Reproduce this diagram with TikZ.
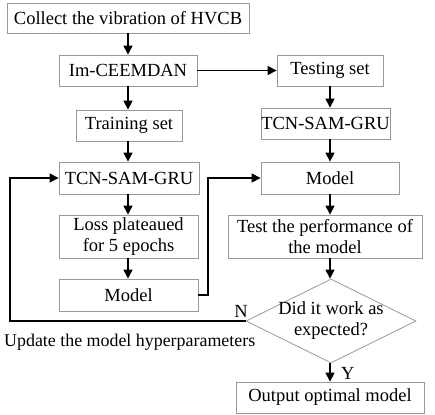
\documentclass[tikz,border=0pt]{standalone}
\usepackage{fontspec}
\setmainfont{Liberation Serif}
\usetikzlibrary{shapes.geometric,arrows.meta}
\begin{document}
\begin{tikzpicture}[x=1pt,y=-1pt,
  box/.style={draw=black!40, line width=0.8pt, inner sep=0pt, align=center, font=\fontsize{18.5}{21}\selectfont},
  dia/.style={draw=black!40, line width=0.8pt, diamond, inner sep=0pt, align=center},
  arr/.style={draw=black, line width=1.2pt, -{Triangle[length=9pt,width=9pt]}},
  lbl/.style={font=\fontsize{18.5}{21}\selectfont, inner sep=0pt}]
\useasboundingbox (0,0) rectangle (435,414);
\node[box, minimum width=242pt, minimum height=30pt] (collect) at (128,18) {Collect the vibration of HVCB};
\node[box, minimum width=138pt, minimum height=31pt] (im) at (128,70.5) {Im-CEEMDAN};
\node[box, minimum width=106pt, minimum height=31pt] (train) at (129,125.5) {Training set};
\node[box, minimum width=140pt, minimum height=32pt] (tcnl) at (129,178) {TCN-SAM-GRU};
\node[box, minimum width=139pt, minimum height=43pt] (loss) at (128.5,236.5) {Loss plateaued\\for 5 epochs};
\node[box, minimum width=139pt, minimum height=32pt] (modell) at (128.5,295) {Model};
\node[box, minimum width=106pt, minimum height=31pt] (test) at (330,70.5) {Testing set};
\node[box, minimum width=129pt, minimum height=31pt] (tcnr) at (325.5,123.5) {TCN-SAM-GRU};
\node[box, minimum width=138pt, minimum height=32pt] (modelr) at (330,178) {Model};
\node[box, minimum width=194pt, minimum height=43pt] (perf) at (325,236.5) {Test the performance of\\the model};
\node[dia, minimum width=170pt, minimum height=84pt, aspect=2] (dec) at (331,321) {};
\node[lbl, align=center] (dectext) at (331,321) {Did it work as\\expected?};
\node[box, minimum width=188pt, minimum height=31pt] (out) at (330,397.5) {Output optimal model};

\coordinate (c1) at (128,0);
\draw[arr] (collect.south -| c1) -- (im.north -| c1);
\draw[arr] (im.south -| c1) -- (train.north -| c1);
\draw[arr] (train.south -| c1) -- (tcnl.north -| c1);
\draw[arr] (tcnl.south -| c1) -- (loss.north -| c1);
\draw[arr] (loss.south -| c1) -- (modell.north -| c1);
\draw[arr] (im.east) -- (test.west);
\coordinate (c2) at (330,0);
\draw[arr] (test.south -| c2) -- (tcnr.north -| c2);
\draw[arr] (tcnr.south -| c2) -- (modelr.north -| c2);
\draw[arr] (modelr.south -| c2) -- (perf.north -| c2);
\draw[arr] (perf.south -| c2) -- (dec.north -| c2);
\draw[arr] (dec.south -| c2) -- (out.north -| c2);
\coordinate (lp) at (10,321);
\draw[arr] (dec.west) -- (lp) |- (tcnl.west);
\coordinate (mp) at (208,295);
\draw[arr] (modell.east) -- (mp) |- (modelr.west);
\node[lbl, anchor=south] (nlab) at (241,318) {N};
\node[lbl, anchor=west] (ylab) at (341,373) {Y};
\node[lbl, anchor=west, font=\fontsize{17.9}{21}\selectfont] (upd) at (4,342) {Update the model hyperparameters};
\end{tikzpicture}
\end{document}
